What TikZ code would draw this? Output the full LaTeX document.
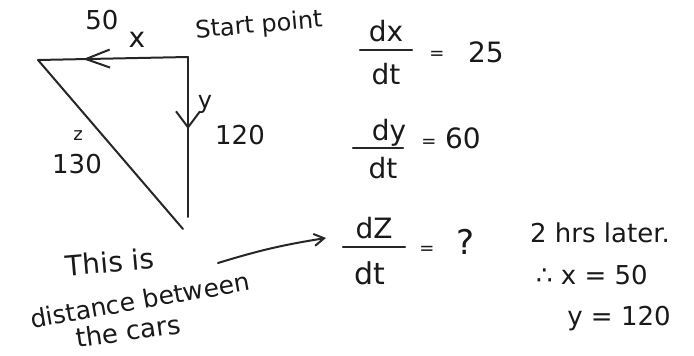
\documentclass[tikz,border=0pt]{standalone}
\usepackage{fontspec}
\setmainfont{DejaVu Sans}
\usetikzlibrary{arrows.meta,decorations.markings}
\begin{document}
\begin{tikzpicture}[x=1pt,y=-1pt,
  hw/.style={inner sep=0pt,text=black!90,font=\fontsize{#1}{#1}\selectfont},
  pen/.style={line width=2pt,black!85,line cap=round},
  fbar/.style={line width=2.2pt,black!85,line cap=round},
  midarrow/.style 2 args={postaction={decorate},decoration={markings,
     mark=at position #1 with {\arrow[line width=2pt]{#2}}}}]
\path[use as bounding box] (0,0) rectangle (694,356);
% triangle
\coordinate (S) at (188,57);
\coordinate (L) at (38,60);
\coordinate (Bv) at (188,217);
\coordinate (Bh) at (183,229);
\draw[pen,midarrow={0.70}{Straight Barb[length=24pt,width=18pt]}] (S) -- (L);
\draw[pen,midarrow={0.45}{Straight Barb[length=16pt,width=24pt]}] (S) -- (Bv);
\draw[pen] (L) -- (Bh);
% labels on triangle
\node[hw=26] (n50) at (102,20) {50};
\node[hw=28] (lx) at (137,40) {x};
\node[hw=24,rotate=5] (start) at (259,26) {Start point};
\node[hw=24] (ly) at (205,104) {y};
\node[hw=26] (n120) at (240,135) {120};
\node[hw=18] (lz) at (78,136) {z};
\node[hw=26] (n130) at (77,164) {130};
% annotation
\node[hw=28,rotate=5] (this) at (110,262) {This is};
\node[hw=25,rotate=10] (dist) at (140,300) {distance between};
\node[hw=26,rotate=8] (cars) at (128,331) {the cars};
\coordinate (pa) at (218,263);
\coordinate (pb) at (326,238);
\draw[pen,-{Straight Barb[length=10pt,width=12pt]}] (pa) to[bend left=4] (pb);
% rates
\node[hw=28] (f1n) at (386,31) {dx};
\node[hw=28] (f1d) at (386,74) {dt};
\coordinate (f1l) at (360,50); \coordinate (f1r) at (412,50);
\draw[fbar] (f1l) -- (f1r);
\node[hw=18] (e1) at (437,55) {=};
\node[hw=28] (v1) at (486,52) {25};
\node[hw=28] (f2n) at (389,133) {dy};
\node[hw=28] (f2d) at (383,168) {dt};
\coordinate (f2l) at (353,148); \coordinate (f2r) at (403,148);
\draw[fbar] (f2l) -- (f2r);
\node[hw=18] (e2) at (429,143) {=};
\node[hw=28] (v2) at (463,138) {60};
\node[hw=28] (f3n) at (374,228) {dZ};
\node[hw=30] (f3d) at (370,273) {dt};
\coordinate (f3l) at (343,247); \coordinate (f3r) at (405,247);
\draw[fbar] (f3l) -- (f3r);
\node[hw=18] (e3) at (427,250) {=};
\node[hw=34] (q) at (466,242) {?};
\node[hw=26] (later) at (600,233) {2 hrs later.};
\node[hw=26] (xv) at (592,275) {∴ x = 50};
\node[hw=26] (yv) at (619,319) {y = 120};
\end{tikzpicture}
\end{document}
